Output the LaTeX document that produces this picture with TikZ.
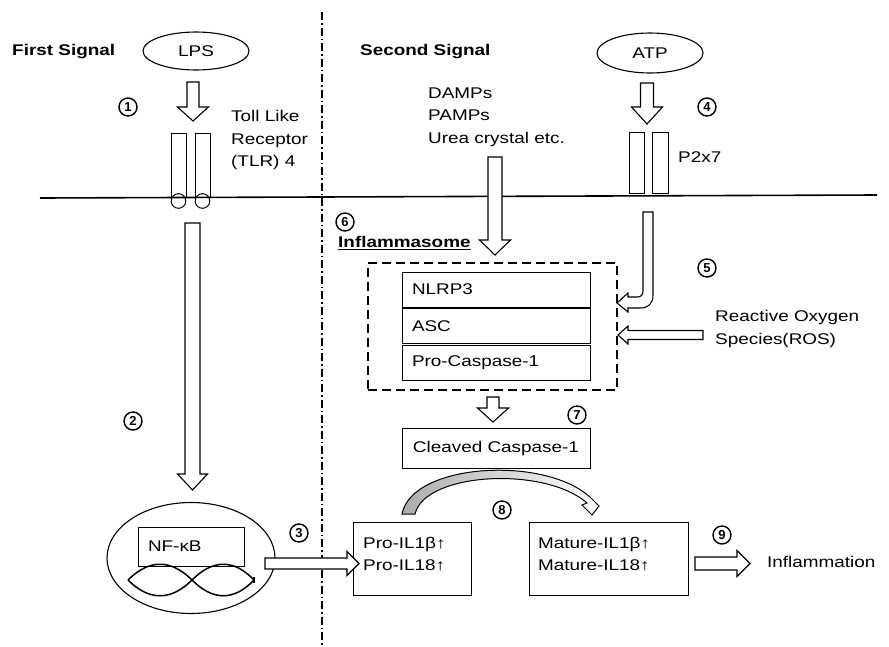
\documentclass[tikz,border=0pt]{standalone}
\usepackage{fontspec}
\setmainfont{Liberation Sans}[FakeStretch=1.22]
\newfontfamily\numfont{Liberation Sans}
\usetikzlibrary{shapes.geometric}
\newcommand{\blkdown}[6]{\draw[blk] ({#1-#5},#2) -- ({#1+#5},#2) -- ({#1+#5},#3) -- ({#1+#6},#3) -- (#1,#4) -- ({#1-#6},#3) -- ({#1-#5},#3) -- cycle;}
\newcommand{\blkright}[6]{\draw[blk] (#2,{#1-#5}) -- (#3,{#1-#5}) -- (#3,{#1-#6}) -- (#4,#1) -- (#3,{#1+#6}) -- (#3,{#1+#5}) -- (#2,{#1+#5}) -- cycle;}
\begin{document}
\begin{tikzpicture}[x=1pt,y=-1pt,
  every node/.style={font=\fontsize{15.5}{22.5}\selectfont},
  lbl/.style={inner sep=0pt, anchor=west, align=left},
  num/.style={circle, draw, line width=1.4pt, minimum size=18pt, inner sep=0pt, font=\numfont\fontsize{13}{13}\selectfont\bfseries},
  oval/.style={ellipse, draw, line width=1.1pt, inner sep=0pt},
  plainbox/.style={draw, line width=1pt, inner sep=0pt},
  stackbox/.style={draw, line width=1pt, minimum height=35pt, text width=168pt, inner xsep=10pt, inner ysep=0pt, align=left},
  blk/.style={draw, line width=1.1pt, fill=white, line join=miter},
]
\useasboundingbox (0,0) rectangle (889,646);

% dash-dot separator
\draw[line width=1.6pt, dash pattern=on 8pt off 3pt on 1.5pt off 3pt] (322,12) -- (322,646);

% headings
\node[lbl, font=\fontsize{15.5}{22.5}\selectfont\bfseries] (first) at (12,52) {First Signal};
\node[lbl, font=\fontsize{15.5}{22.5}\selectfont\bfseries] (second) at (360,52) {Second Signal};

% LPS side
\node[oval, minimum width=106pt, minimum height=38pt] (lps) at (196,51) {LPS};
\blkdown{193}{82}{107}{121}{6}{15.5}
\node[num] (n1) at (128,107) {1};
\node[lbl] (tlr) at (231,140) {Toll Like\\Receptor\\(TLR) 4};
\draw[line width=1pt] (171,133) rectangle (186,197);
\draw[line width=1pt] (195,133) rectangle (210,197);
\draw[line width=1pt] (178.5,201) circle (7.3);
\draw[line width=1pt] (202.5,201) circle (7.3);

% second signal
\node[lbl] (damps) at (428,117) {DAMPs\\PAMPs\\Urea crystal etc.};
\node[oval, minimum width=106pt, minimum height=40pt] (atp) at (650,53) {ATP};
\blkdown{647}{83}{107}{124}{6.5}{15.5}
\node[num] (n4) at (707,107) {4};
\draw[line width=1pt] (629,132) rectangle (644,193);
\draw[line width=1pt] (652,132) rectangle (668,193);
\node[lbl] (p2x7) at (678,157) {P2x7};

% membrane
\draw[line width=1.6pt] (40,198) -- (877,195);

% long arrows
\blkdown{192.5}{223}{474}{490}{7.5}{15}
\blkdown{495}{157}{240}{255}{7}{15.5}

% inflammasome
\node[num] (n6) at (345,222) {6};
\node[lbl, font=\fontsize{15.5}{22.5}\selectfont\bfseries] (infl) at (338,243) {\underline{Inflammasome}};
\node[draw, line width=2pt, dash pattern=on 9pt off 5pt, minimum width=249pt, minimum height=127pt, inner sep=0pt] (dbox) at (492.5,326.5) {};
\node[stackbox] (nlrp3) at (496,289.5) {NLRP3};
\node[stackbox] (asc) at (496,326) {ASC};
\node[stackbox] (procasp) at (496,362.5) {Pro-Caspase-1};

% P2x7 bent arrow
\draw[blk] (643,212) -- (653,212) -- (653,295) .. controls (653,304) and (648,308) .. (640,308) -- (628,308) -- (628,312) -- (617,303) -- (628,293) -- (628,297) -- (637,297) .. controls (641,297) and (643,295) .. (643,291) -- cycle;
\node[num] (n5) at (707,268) {5};
% ROS
\blkright{335}{703}{628}{618}{4.5}{9}
\node[lbl] (ros) at (715,329) {Reactive Oxygen\\Species(ROS)};

% caspase
\blkdown{493}{397}{408}{422}{6}{15.5}
\node[num] (n7) at (577,415) {7};
\node[plainbox, minimum width=188pt, minimum height=40pt] (cleaved) at (496,448) {Cleaved Caspase-1};

% NF-kB
\node[oval, minimum width=168pt, minimum height=111pt] (nfkbov) at (191,558) {};
\node[plainbox, minimum width=106pt, minimum height=39pt, text width=96pt, inner xsep=5pt, align=left] (nfkb) at (191,546.5) {\hspace{5pt}NF-κB};
\draw[line width=1.5pt] (128,580) .. controls (149,559) and (171,559) .. (192,580) .. controls (213,601) and (234,601) .. (254,580);
\draw[line width=1.5pt] (128,580) .. controls (149,601) and (171,601) .. (192,580) .. controls (213,559) and (234,559) .. (254,580);
\draw[line width=1.2pt] (254,577) -- (254,583);
\node[num] (n2) at (133,421) {2};
\node[num] (n3) at (299,533) {3};

% cytokines
\node[plainbox, minimum width=118pt, minimum height=73pt] (proil) at (412,558.5) {};
\node[lbl] (protext) at (363,554) {Pro-IL1β↑\\Pro-IL18↑};
\node[plainbox, minimum width=159pt, minimum height=73pt] (mature) at (608.5,558.5) {};
\node[lbl] (mattext) at (538,554) {Mature-IL1β↑\\Mature-IL18↑};
\blkright{563.5}{265}{347}{359}{5.5}{12}
\node[num] (n8) at (502,510) {8};

% curved arrow
\path[draw, line width=1pt, left color=gray!65, right color=white]
  (402,514) .. controls (412,462) and (550,455) .. (593,500) -- (599,506) -- (592,515) -- (582,505) -- (587,503) .. controls (545,466) and (425,472) .. (415,514) -- cycle;

% inflammation
\node[num] (n9) at (722,535) {9};
\blkright{563.5}{695}{737}{750}{6.5}{13}
\node[lbl] (inflam) at (767,562) {Inflammation};
\end{tikzpicture}
\end{document}
